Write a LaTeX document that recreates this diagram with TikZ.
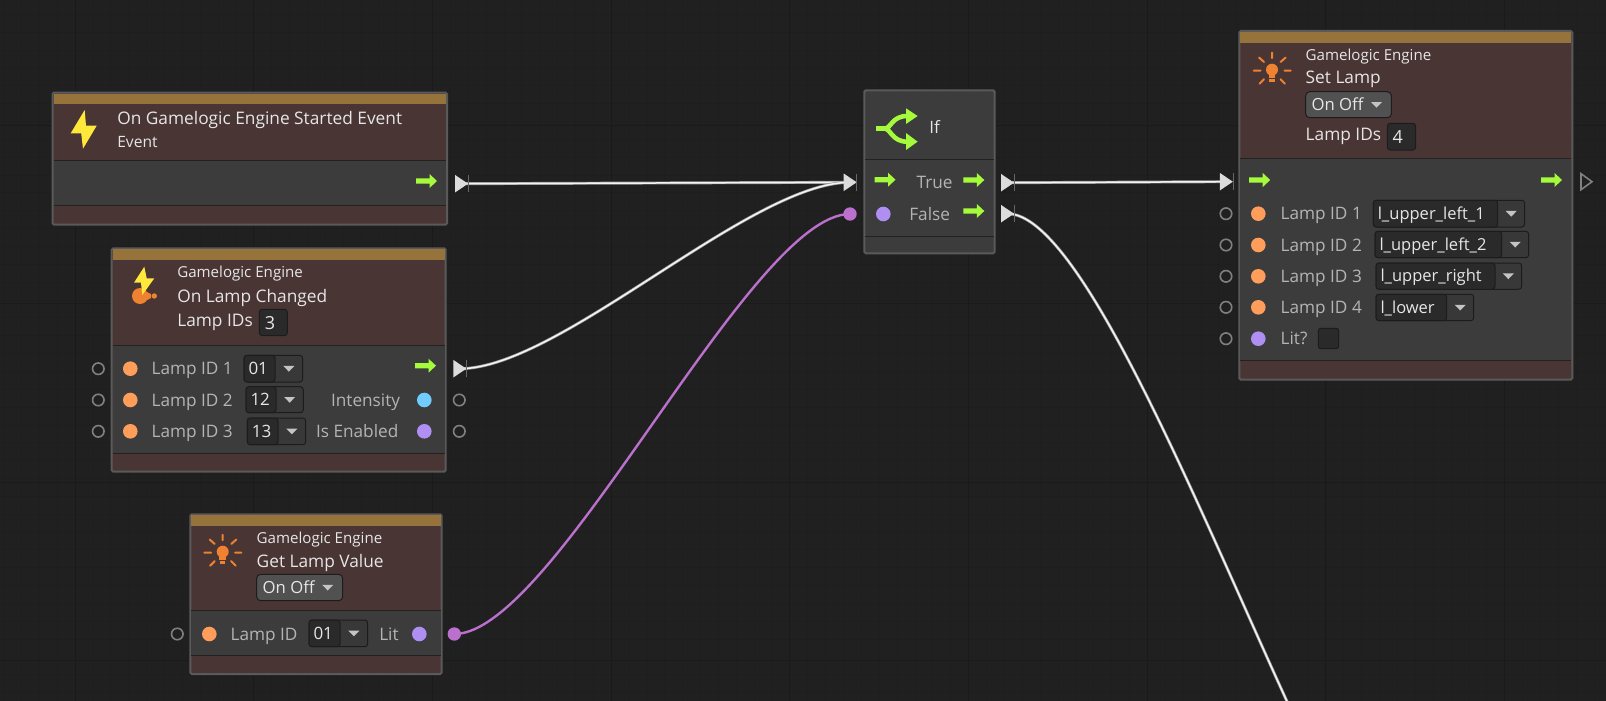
\documentclass[tikz,border=0pt]{standalone}
\usepackage{fontspec}
\setmainfont{Open Sans}
\definecolor{bgc}{HTML}{202020}
\definecolor{gridmaj}{HTML}{1A1A1A}
\definecolor{gridmin}{HTML}{1E1E1E}
\definecolor{frame}{HTML}{5A5A5A}
\definecolor{headc}{HTML}{4A3535}
\definecolor{barc}{HTML}{96733B}
\definecolor{bodyc}{HTML}{3C3C3C}
\definecolor{sepc}{HTML}{222222}
\definecolor{txtw}{HTML}{E6E6E6}
\definecolor{txtg}{HTML}{B4B4B4}
\definecolor{greenc}{HTML}{A6FA3C}
\definecolor{orangedot}{HTML}{FF9E5A}
\definecolor{purpledot}{HTML}{B08FF2}
\definecolor{bluedot}{HTML}{70CCFF}
\definecolor{wirep}{HTML}{BA70CC}
\definecolor{wirew}{HTML}{F4F4F4}
\definecolor{wireg}{HTML}{9A9A9A}
\definecolor{iconor}{HTML}{EE8230}
\definecolor{iconye}{HTML}{FFE83C}
\definecolor{fieldc}{HTML}{2A2A2A}
\definecolor{fieldb}{HTML}{1C1C1C}
\definecolor{ddarc}{HTML}{383838}
\definecolor{enumc}{HTML}{515151}
\definecolor{portc}{HTML}{808080}
\definecolor{tipc}{HTML}{666666}
\definecolor{trifill}{HTML}{DCDCDC}
\tikzset{
  x=1pt,y=-1pt,
  txt/.style={inner sep=0pt,outer sep=0pt,text height={0.9*#1*1pt},text depth={0.2*#1*1pt},font=\fontsize{#1}{#1}\selectfont},
  white text/.style={txt=#1,text=txtw,anchor=west},
  grey text/.style={txt=#1,text=txtg,anchor=west},
  grey right/.style={txt=#1,text=txtg,anchor=east},
  field text/.style={txt=#1,text=txtw,anchor=west},
  wire/.style={line width=2.9pt,wireg,postaction={draw=wirew,line width=1.5pt}},
  pinkwire/.style={line width=2.4pt,wirep},
  panel/.style={anchor=north west,draw=frame,line width=2pt,rounded corners=1.5pt,fill=headc,inner sep=0pt,outer sep=0pt},
  dotport/.style={circle,inner sep=0pt,minimum size=14.6pt,fill=#1},
  openport/.style={circle,inner sep=0pt,minimum size=11.5pt,draw=portc,line width=1.6pt},
}
\newcommand\fsz{17}
% panel: name, x0,y0,x1,y1, bar bottom, head bottom, body bottom
\newcommand\panelbox[8]{%
  \pgfmathsetmacro\pwid{#4-#2-2}\pgfmathsetmacro\phgt{#5-#3-2}%
  \node[panel,minimum width=\pwid pt,minimum height=\phgt pt] (#1) at (#2+1,#3+1) {};
  \fill[barc] (#2+2,#3+2) rectangle (#4-2,#6);
  \fill[bodyc] (#2+2,#7) rectangle (#4-2,#8);
  \draw[sepc,line width=1pt] (#2+2,#7) -- (#4-2,#7) (#2+2,#8) -- (#4-2,#8);
}
\newcommand\greyarrow[2]{\fill[greenc] (#1-10.5,#2-2.6) -- (#1+3,#2-2.6) -- (#1+3,#2-7) -- (#1+10.5,#2) -- (#1+3,#2+7) -- (#1+3,#2+2.6) -- (#1-10.5,#2+2.6) -- cycle;}
\newcommand\tritip[2]{%
  \fill[trifill] (#1-6.5,#2-8.8) -- (#1+6.5,#2) -- (#1-6.5,#2+8.8) -- cycle;
  \draw[tipc,line width=.5pt] (#1+6.5,#2-8.5) -- (#1+6.5,#2+8.5);}
\newcommand\dropdn[2]{\fill[txtw!85!black] (#1-5.5,#2-2.7) -- (#1+5.5,#2-2.7) -- (#1,#2+3) -- cycle;}
% field: name x0 xm x1 y0 y1 text
\newcommand\ddfield[7]{%
  \draw[fieldb,fill=ddarc,line width=1pt,rounded corners=3pt] (#2,#5) rectangle (#4,#6);
  \draw[fieldb,fill=fieldc,line width=1pt,rounded corners=3pt] (#2,#5) rectangle (#3,#6);
  \pgfmathsetmacro\ddx{(#3+#4)/2}\pgfmathsetmacro\ddy{(#5+#6)/2}%
  \node[field text=\fsz] (#1) at (#2+4.5,\ddy) {#7};
  \dropdn{\ddx}{\ddy}
}
\newcommand\sunicon[2]{%
  \begin{scope}[shift={(#1,#2)}]
    \fill[iconor] (0,-1) circle (6);
    \fill[iconor] (-3.4,3) rectangle (3.4,7);
    \fill[iconor] (-2.6,8.4) rectangle (2.6,11.5);
    \draw[iconor,line width=2pt,line cap=round]
      (0,-18) -- (0,-12.5) (-18.3,0) -- (-11.5,0) (12.5,0) -- (18.7,0)
      (-13,-13.2) -- (-8,-8.7) (13.6,-13.2) -- (8.6,-8.7)
      (-12.5,13) -- (-8,8.5) (13,13) -- (8.5,8.5);
  \end{scope}}
\begin{document}
\begin{tikzpicture}
\useasboundingbox (0,0) rectangle (1606,701);
\fill[bgc] (0,0) rectangle (1606,701);
% grid
\foreach \k in {0,...,90} {\draw[gridmin,line width=.8pt] ({3.6+17.87*\k},0) -- ({3.6+17.87*\k},701);}
\foreach \k in {0,...,40} {\draw[gridmin,line width=.8pt] (0,{-3.5+17.85*\k}) -- (1606,{-3.5+17.85*\k});}
\foreach \k in {0,...,8} {\draw[gridmaj,line width=1pt] ({75+178.7*\k},0) -- ({75+178.7*\k},701);}
\foreach \k in {0,...,3} {\draw[gridmaj,line width=1pt] (0,{125+178.5*\k}) -- (1606,{125+178.5*\k});}
% port anchors
\coordinate (startOut) at (461.5,183.7);
\coordinate (lampOut) at (459.8,368.7);
\coordinate (litOut) at (454.3,634);
\coordinate (ifIn) at (850.2,182.3);
\coordinate (ifFalseIn) at (850,214);
\coordinate (ifTrueOut) at (1007.5,182.7);
\coordinate (ifFalseOut) at (1007.5,213.7);
\coordinate (setIn) at (1226.3,181.7);
\coordinate (offEnd) at (1290,708);
% panels
\panelbox{startNode}{51.5}{91.5}{448}{225.7}{104}{160.3}{205.5}
\panelbox{lampChanged}{110.7}{247.3}{446.7}{472.7}{260}{345.7}{453.3}
\panelbox{getLamp}{189.3}{513.3}{442.7}{675}{525.7}{610.3}{655.3}
\panelbox{setLamp}{1238.3}{30}{1573.3}{380.7}{42.7}{158.3}{360.3}
\node[panel,fill=bodyc,minimum width=130.4pt,minimum height=163pt] (ifNode) at (864.3,90.3) {};
\draw[sepc,line width=1pt] (865.3,159.3) -- (993.7,159.3) (865.3,236) -- (993.7,236);
% wires
\draw[wire] (startOut) -- (ifIn);
\draw[wire] (lampOut) .. controls (560,368.7) and (750,182.3) .. (ifIn);
\draw[pinkwire] (litOut) .. controls (555,634) and (750,214) .. (ifFalseIn);
\draw[wire] (ifTrueOut) -- (setIn);
\draw[wire] (ifFalseOut) .. controls (1080,213.7) and (1196,503) .. (offEnd);
% triangles
\tritip{461.5}{183.7}
\tritip{459.8}{368.7}
\tritip{850.2}{182.3}
\tritip{1007.5}{182.7}
\tritip{1007.5}{213.7}
\tritip{1226.3}{181.7}
\draw[portc,line width=1.6pt,line join=miter] (1581,173.7) -- (1592,181.7) -- (1581,189.7) -- cycle;
\node[dotport=wirep,minimum size=13.4pt] (litDot) at (litOut) {};
\node[dotport=wirep,minimum size=13.4pt] (ifFalseDot) at (ifFalseIn) {};
% ---- start node
\fill[iconye] (84.7,110) -- (70.7,133.3) -- (81.2,133.3) -- (83,148.7) -- (96.7,125.7) -- (86,125.7) -- cycle;
\node[white text=17.3] (t1) at (117.3,118.7) {On Gamelogic Engine Started Event};
\node[white text=15.6] (t2) at (117.3,142) {Event};
\greyarrow{426.5}{181}
% ---- lamp changed
\fill[iconor] (140,296) circle (8);
\fill[iconor] (154.3,296) circle (2.7);
\fill[iconor] (146,291.5) -- (151,294) -- (151,298) -- (146,300.5) -- cycle;
\fill[iconye] (144.3,266.7) -- (134,282.7) -- (141,282.7) -- (142.3,295) -- (154.3,278.3) -- (146.7,278.3) -- cycle;
\node[white text=15.1] (t3) at (177.3,272.7) {Gamelogic Engine};
\node[white text=17.3] (t4) at (177.3,296) {On Lamp Changed};
\node[white text=17.3] (t5) at (177.3,320) {Lamp IDs};
\draw[fieldb,fill=fieldc,line width=1pt,rounded corners=3pt] (259.3,309.3) rectangle (287.3,335.7);
\node[field text=18,anchor=center] (t6) at (270,322.7) {3};
\greyarrow{425.5}{365.7}
\foreach \n/\y/\tx in {1/368.7/Lamp ID 1,2/400/Lamp ID 2,3/431.3/Lamp ID 3} {
  \node[openport] (lcOpen\n) at (98.3,\y) {};
  \node[dotport=orangedot] (lcDot\n) at (130.3,\y) {};
  \node[grey text=17.2] (lcLab\n) at (151.7,\y) {\tx};
}
\ddfield{lcF1}{244}{275}{302.7}{355.3}{382}{01}
\ddfield{lcF2}{246}{276}{303.3}{386.7}{412.7}{12}
\ddfield{lcF3}{247.3}{278}{305.7}{418}{444.7}{13}
\node[grey right=17.2] (t7) at (400,400) {Intensity};
\node[grey right=17.2] (t8) at (398.3,431.3) {Is Enabled};
\node[dotport=bluedot] (d1) at (424.3,400) {};
\node[dotport=purpledot] (d2) at (424.3,431.3) {};
\node[openport] (o1) at (459.3,400) {};
\node[openport] (o2) at (459.3,431.3) {};
% ---- get lamp
\sunicon{222.7}{552.7}
\node[white text=15.1] (t9) at (256.7,538.3) {Gamelogic Engine};
\node[white text=17.3] (t10) at (256.7,561) {Get Lamp Value};
\draw[fieldb,fill=enumc,line width=1pt,rounded corners=4pt] (256.7,574.3) rectangle (342.7,600.7);
\node[field text=16.7] (t11) at (262.7,587.5) {On Off};
\dropdn{327.7}{587.5}
\node[openport] (o3) at (177.3,634) {};
\node[dotport=orangedot] (d3) at (209.3,634) {};
\node[grey text=17.2] (t12) at (230.7,634) {Lamp ID};
\ddfield{glF}{309}{340}{367.7}{620}{646.7}{01}
\node[grey text=17.2] (t13) at (379.3,634) {Lit};
\node[dotport=purpledot] (d4) at (419.3,634) {};
% ---- if
\draw[greenc,line width=5pt] (876,128.7) -- (886,128.7);
\draw[greenc,line width=4.6pt] (885,128.7) .. controls (891,128) and (892,116.2) .. (907,116) (885,128.7) .. controls (891,129.4) and (892,141.5) .. (907,141.7);
\fill[greenc] (906,108.3) -- (917.6,116) -- (906,124) -- cycle;
\fill[greenc] (906,133) -- (917.6,141.7) -- (906,150) -- cycle;
\node[white text=17] (t14) at (929.3,127.3) {If};
\greyarrow{885}{179.7}
\greyarrow{973.8}{180}
\greyarrow{973.8}{211}
\node[grey text=17.2] (t15) at (916.7,182.3) {True};
\node[grey text=17.2] (t16) at (909.3,214.3) {False};
\node[dotport=purpledot] (d5) at (883.3,214) {};
% ---- set lamp
\sunicon{1272}{70.7}
\node[white text=15.1] (t17) at (1305.7,55.7) {Gamelogic Engine};
\node[white text=17.3] (t18) at (1305.7,77.7) {Set Lamp};
\draw[fieldb,fill=enumc,line width=1pt,rounded corners=4pt] (1305.7,91.7) rectangle (1391.3,117.7);
\node[field text=16.7] (t19) at (1311.5,104.7) {On Off};
\dropdn{1376.5}{104.7}
\node[white text=17.3] (t20) at (1305.7,134) {Lamp IDs};
\draw[fieldb,fill=fieldc,line width=1pt,rounded corners=3pt] (1387.3,123.3) rectangle (1415.7,150);
\node[field text=18,anchor=center] (t21) at (1397.7,136.7) {4};
\greyarrow{1259.7}{180}
\greyarrow{1551.5}{180}
\foreach \n/\y/\tx in {1/213.7/Lamp ID 1,2/245/Lamp ID 2,3/276.3/Lamp ID 3,4/307.3/Lamp ID 4} {
  \node[openport] (slOpen\n) at (1226,\y) {};
  \node[dotport=orangedot] (slDot\n) at (1258.3,\y) {};
  \node[grey text=17.2] (slLab\n) at (1280.7,\y) {\tx};
}
\node[openport] (slOpen5) at (1226,338.7) {};
\node[dotport=purpledot] (slDot5) at (1258.3,338.7) {};
\node[grey text=17.2] (slLab5) at (1280.7,338.7) {Lit?};
\draw[fieldb,fill=fieldc,line width=1pt,rounded corners=2.5pt] (1318.3,328.3) rectangle (1338.7,348.7);
\renewcommand\fsz{16.5}
\ddfield{slF1}{1373.3}{1497.7}{1524.7}{200.3}{227}{l\_upper\_left\_1}
\ddfield{slF2}{1375}{1501.7}{1528.7}{231.3}{257.7}{l\_upper\_left\_2}
\ddfield{slF3}{1376}{1495}{1521.7}{263}{289.3}{l\_upper\_right}
\ddfield{slF4}{1376}{1446.7}{1473.7}{294.3}{320.7}{l\_lower}
\end{tikzpicture}
\end{document}
